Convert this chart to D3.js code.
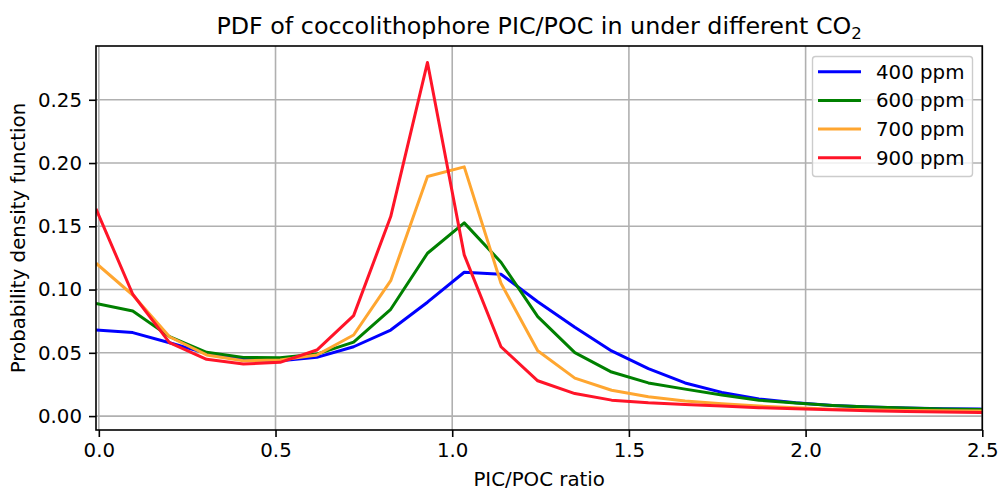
<!DOCTYPE html>
<html>
<head>
<meta charset="utf-8">
<script src="https://cdn.jsdelivr.net/npm/d3@7"></script>
<style>
  body { margin: 0; background: #fff; }
  text { font-family: "DejaVu Sans", sans-serif; fill: #000; }
</style>
</head>
<body>
<div id="chart"></div>
<script>
// bin centres of the PIC/POC ratio
var ratio = [-0.008, 0.096, 0.200, 0.305, 0.409, 0.513, 0.617, 0.721, 0.826, 0.930,
             1.034, 1.138, 1.242, 1.347, 1.451, 1.555, 1.659, 1.763, 1.868, 1.972,
             2.076, 2.180, 2.284, 2.389, 2.493, 2.597];

var ppm400 = [0.068, 0.066, 0.058, 0.0496, 0.0449, 0.0438, 0.0464, 0.0548, 0.068, 0.090,
              0.1137, 0.1121, 0.0904, 0.0702, 0.0515, 0.0375, 0.0262, 0.0187, 0.0135, 0.0105,
              0.0084, 0.0071, 0.0063, 0.0058, 0.0055, 0.0053];
var ppm600 = [0.0891, 0.0831, 0.0628, 0.0504, 0.0464, 0.0461, 0.049, 0.0585, 0.0844, 0.1287,
              0.1527, 0.1216, 0.0786, 0.0501, 0.0348, 0.0262, 0.0213, 0.0166, 0.0126, 0.0103,
              0.0084, 0.0071, 0.0063, 0.0055, 0.0053, 0.0052];
var ppm700 = [0.1208, 0.0957, 0.0627, 0.0483, 0.0438, 0.0443, 0.0483, 0.0641, 0.107, 0.1893,
              0.197, 0.105, 0.0517, 0.0300, 0.0204, 0.0152, 0.0120, 0.0097, 0.0079, 0.0066,
              0.0055, 0.005, 0.0045, 0.0042, 0.004, 0.0039];
var ppm900 = [0.1638, 0.0963, 0.058, 0.0449, 0.0411, 0.0425, 0.0522, 0.0794, 0.1577, 0.2795,
              0.1274, 0.0548, 0.0279, 0.0178, 0.0126, 0.0105, 0.0092, 0.0079, 0.0066, 0.0058,
              0.005, 0.0042, 0.0037, 0.0032, 0.0029, 0.0028];

var labels = ['400 ppm', '600 ppm', '700 ppm', '900 ppm'];
var xTicks = [0, 0.5, 1.0, 1.5, 2.0, 2.5];
var yTicks = [0, 0.05, 0.10, 0.15, 0.20, 0.25];

var series = [ppm400, ppm600, ppm700, ppm900];
var colors = ['#0000ff', '#008000', '#ffa630', '#ff1428'];

var width = 998, height = 490;
var mLeft = 96, mRight = 982.3, mTop = 46, mBottom = 430;
var fs = '19.8px';

var svg = d3.select('#chart')
    .append('svg')
    .attr('width', width)
    .attr('height', height)

var x = d3.scaleLinear()
    .domain([-0.008, 2.5])
    .range([mLeft, mRight])
var y = d3.scaleLinear()
    .domain([-0.011, 0.2925])
    .range([mBottom, mTop])

svg.append('clipPath').attr('id', 'clip')
    .append('rect')
    .attr('x', mLeft).attr('y', mTop)
    .attr('width', mRight - mLeft).attr('height', mBottom - mTop)

// grid
var grid = svg.append('g')
grid.selectAll('.gx').data(xTicks).enter().append('line')
    .attr('x1', d => x(d)).attr('x2', d => x(d))
    .attr('y1', mTop).attr('y2', mBottom)
    .attr('stroke', '#b0b0b0').attr('stroke-width', 1.6)
grid.selectAll('.gy').data(yTicks).enter().append('line')
    .attr('x1', mLeft).attr('x2', mRight)
    .attr('y1', d => y(d)).attr('y2', d => y(d))
    .attr('stroke', '#b0b0b0').attr('stroke-width', 1.6)

// lines
var line = d3.line()
    .x((d, i) => x(ratio[i]))
    .y(d => y(d))

svg.append('g').attr('clip-path', 'url(#clip)')
    .selectAll('path')
    .data(series)
    .enter()
    .append('path')
    .attr('d', d => line(d))
    .attr('fill', 'none')
    .attr('stroke', (d, i) => colors[i])
    .attr('stroke-width', 3)
    .attr('stroke-linejoin', 'round')

// axes
var xAxis = d3.axisBottom(x)
    .tickValues(xTicks)
    .tickFormat(d3.format('.1f'))
    .tickSize(7)
    .tickPadding(6)
    .tickSizeOuter(0)
var yAxis = d3.axisLeft(y)
    .tickValues(yTicks)
    .tickFormat(d3.format('.2f'))
    .tickSize(7)
    .tickPadding(7)
    .tickSizeOuter(0)

var gx = svg.append('g')
    .attr('transform', 'translate(0,' + mBottom + ')')
    .call(xAxis)
var gy = svg.append('g')
    .attr('transform', 'translate(' + mLeft + ',0)')
    .call(yAxis)
;[gx, gy].forEach(function(g) {
    g.select('.domain').remove()
    g.selectAll('line').attr('stroke', '#000').attr('stroke-width', 1.6)
    g.selectAll('text').style('font-size', fs).style('font-family', '"DejaVu Sans", sans-serif')
})

// frame
svg.append('rect')
    .attr('x', mLeft).attr('y', mTop)
    .attr('width', mRight - mLeft).attr('height', mBottom - mTop)
    .attr('fill', 'none').attr('stroke', '#000').attr('stroke-width', 1.6)

// title
var title = svg.append('text')
    .attr('x', (mLeft + mRight) / 2)
    .attr('y', 34)
    .attr('text-anchor', 'middle')
    .style('font-size', '23.8px')
title.append('tspan').text('PDF of coccolithophore PIC/POC in under different CO')
title.append('tspan').text('2').attr('dy', 5).style('font-size', '16.6px')

svg.append('text')
    .attr('x', (mLeft + mRight) / 2)
    .attr('y', 486)
    .attr('text-anchor', 'middle')
    .style('font-size', fs)
    .text('PIC/POC ratio')

svg.append('text')
    .attr('transform', 'translate(25,' + ((mTop + mBottom) / 2) + ') rotate(-90)')
    .attr('text-anchor', 'middle')
    .style('font-size', fs)
    .text('Probability density function')

// legend
var legend = svg.append('g')
legend.append('rect')
    .attr('x', 812.5).attr('y', 56.5)
    .attr('width', 160).attr('height', 120)
    .attr('rx', 3)
    .attr('fill', '#fff').attr('fill-opacity', 0.8)
    .attr('stroke', '#cccccc').attr('stroke-width', 1.4)
var items = legend.selectAll('.item')
    .data(labels)
    .enter()
    .append('g')
    .attr('transform', (d, i) => 'translate(0,' + (71.7 + i * 28.7) + ')')
items.append('line')
    .attr('x1', 818).attr('x2', 861)
    .attr('stroke', (d, i) => colors[i])
    .attr('stroke-width', 3)
items.append('text')
    .attr('x', 876)
    .attr('y', 7)
    .style('font-size', fs)
    .text(d => d)
</script>
</body>
</html>
